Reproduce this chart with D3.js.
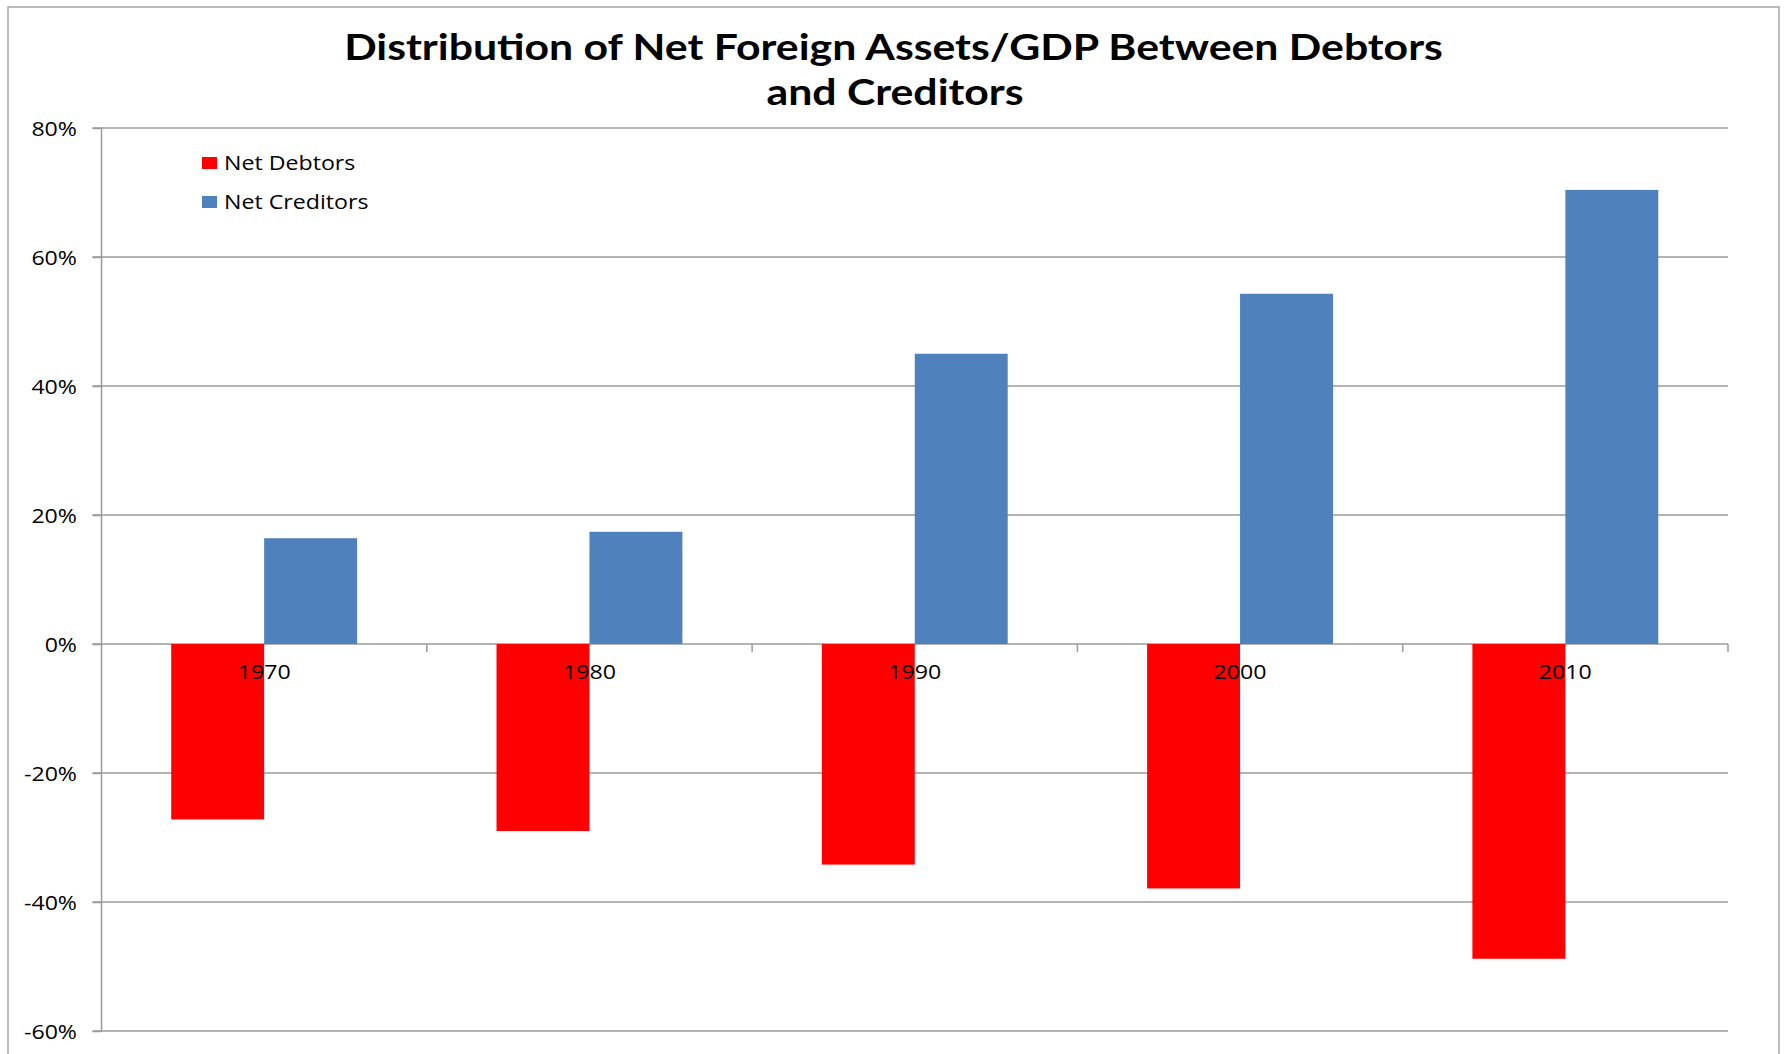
<!DOCTYPE html>
<html>
<head>
<meta charset="utf-8">
<script src="https://cdn.jsdelivr.net/npm/d3@7"></script>
<style>
  html, body { margin: 0; padding: 0; background: #fff; }
  svg { display: block; }
  text { font-family: "Open Sans", "Noto Sans", sans-serif; fill: #000; }
</style>
</head>
<body>
<svg id="chart" width="1787" height="1054"></svg>
<script>
// ---- data ----
const years = ["1970", "1980", "1990", "2000", "2010"];
const seriesNames = ["Net Debtors", "Net Creditors"];
const netDebtors = [-27.2, -29.0, -34.2, -37.9, -48.8];
const netCreditors = [16.4, 17.4, 45.0, 54.3, 70.4];
const yTicks = [-60, -40, -20, 0, 20, 40, 60, 80];
const titleLines = ["Distribution of Net Foreign Assets/GDP Between Debtors", "and Creditors"];

// ---- layout ----
const W = 1787, H = 1054;
const plot = { left: 101.5, right: 1728, top: 128, bottom: 1031 };
const colors = { "Net Debtors": "#FF0000", "Net Creditors": "#4F81BD" };
const SX = 1.13; // horizontal stretch of the reference's text
const gridColor = "#9a9a9a";

const svg = d3.select("#chart");

// outer border
svg.append("rect")
  .attr("x", 8).attr("y", 7)
  .attr("width", 1771).attr("height", 1100)
  .attr("fill", "#fff").attr("stroke", "#a6a6a6").attr("stroke-width", 1.5);

// scales
const x = d3.scaleBand().domain(years).range([plot.left, plot.right]).paddingInner(0).paddingOuter(0);
const xs = d3.scaleBand().domain(seriesNames).range([0, x.bandwidth()]).paddingInner(0).paddingOuter(0.75);
const y = d3.scaleLinear().domain([-60, 80]).range([plot.bottom, plot.top]);

// gridlines
svg.append("g").selectAll("line").data(yTicks).join("line")
  .attr("x1", plot.left - 9).attr("x2", plot.right)
  .attr("y1", d => y(d)).attr("y2", d => y(d))
  .attr("stroke", gridColor).attr("stroke-width", 1.5);

// y axis
const yAxis = svg.append("g").attr("transform", `translate(${plot.left},0)`)
  .call(d3.axisLeft(y).tickValues(yTicks).tickSize(9).tickPadding(0).tickFormat(d => d + "%"));
yAxis.select(".domain").attr("stroke", gridColor).attr("stroke-width", 1.5).attr("d", `M0,${plot.top}V${plot.bottom}`);
yAxis.selectAll(".tick line").attr("stroke", gridColor).attr("stroke-width", 1.5);
yAxis.selectAll(".tick text")
  .attr("x", -24.5 / SX).attr("dy", "0.35em")
  .attr("transform", `scale(${SX},1)`)
  .style("font-size", "20.5px").attr("fill", "#000")
  .attr("font-family", null);

// bars
const data = years.map((yr, i) => ({ year: yr, values: [
  { name: "Net Debtors", value: netDebtors[i] },
  { name: "Net Creditors", value: netCreditors[i] }
]}));

svg.append("g").selectAll("g").data(data).join("g")
  .attr("transform", d => `translate(${x(d.year)},0)`)
  .selectAll("rect").data(d => d.values).join("rect")
  .attr("x", d => xs(d.name))
  .attr("width", xs.bandwidth())
  .attr("y", d => y(Math.max(0, d.value)))
  .attr("height", d => Math.abs(y(d.value) - y(0)))
  .attr("fill", d => colors[d.name]);

// x axis at 0
const zeroY = y(0);
const xAxis = svg.append("g").attr("transform", `translate(0,${zeroY})`)
  .call(d3.axisBottom(x).tickSize(0).tickPadding(0));
xAxis.select(".domain").remove();
xAxis.selectAll(".tick text")
  .attr("y", 0).attr("dy", null)
  .attr("transform", `translate(0,35) scale(${SX},1)`)
  .style("font-size", "20.5px").attr("fill", "#000")
  .attr("font-family", null);
// boundary tick marks
const boundaries = years.map(yr => x(yr) + x.bandwidth());
svg.append("g").selectAll("line").data(boundaries).join("line")
  .attr("x1", d => d).attr("x2", d => d)
  .attr("y1", zeroY).attr("y2", zeroY + 8)
  .attr("stroke", gridColor).attr("stroke-width", 1.5);

// legend
const legend = svg.append("g").selectAll("g").data(seriesNames).join("g")
  .attr("transform", (d, i) => `translate(202,${157 + i * 39})`);
legend.append("rect").attr("width", 15).attr("height", 12).attr("fill", d => colors[d]);
legend.append("text")
  .attr("transform", `translate(22,12.5) scale(${SX},1)`)
  .style("font-size", "20.5px")
  .text(d => d);

// title (one text element, two lines)
const title = svg.append("text")
  .attr("text-anchor", "middle")
  .style("font-family", "Lato, 'Open Sans', sans-serif")
  .style("font-size", "36px").style("font-weight", "bold");
const l1 = title.append("tspan").attr("x", 0).attr("y", 60).text(titleLines[0]);
const natural = l1.node().getComputedTextLength();
const tsx = 1099 / natural;
l1.attr("x", 893.5 / tsx);
title.append("tspan").attr("x", 895 / tsx).attr("y", 105).text(titleLines[1]);
title.attr("transform", `scale(${tsx},1)`);
</script>
</body>
</html>
